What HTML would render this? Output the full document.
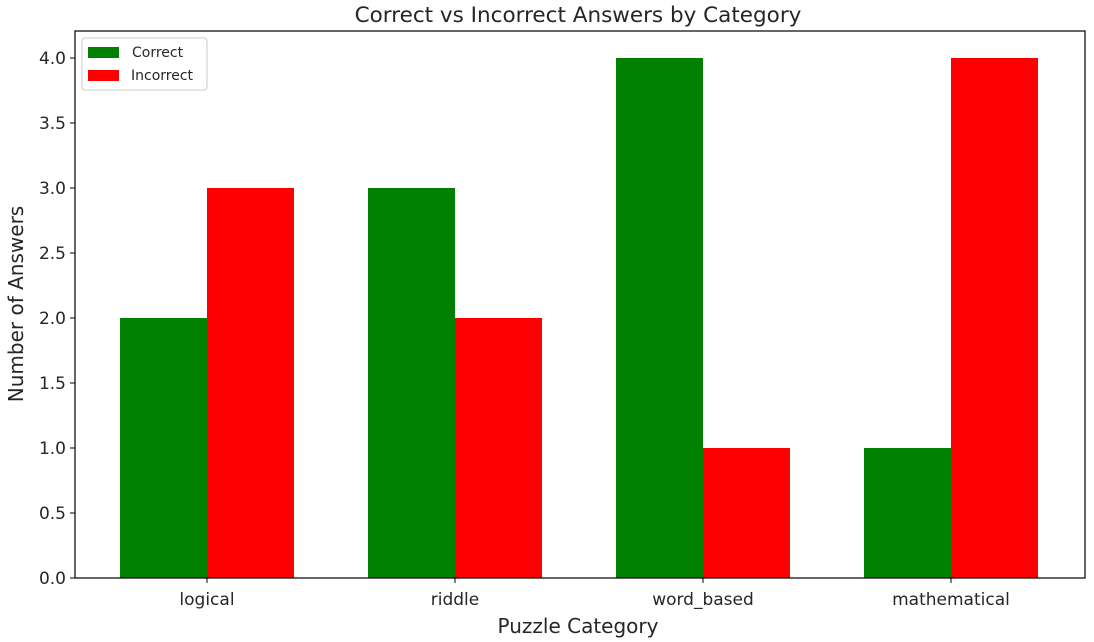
<!DOCTYPE html>
<html><head><meta charset="utf-8"><style>
html,body{margin:0;padding:0;background:#fff;width:1094px;height:642px;overflow:hidden}
svg text{font-family:"DejaVu Sans","Liberation Sans",sans-serif;fill:#262626}
</style></head><body>
<svg id="chart" width="1094" height="642" xmlns="http://www.w3.org/2000/svg">
<g id="bars"></g>
<g id="axes"></g>
<text x="578" y="22" text-anchor="middle" font-size="21.5">Correct vs Incorrect Answers by Category</text>
<text x="578" y="633" text-anchor="middle" font-size="20">Puzzle Category</text>
<text transform="translate(23,304) rotate(-90)" text-anchor="middle" font-size="20">Number of Answers</text>
<g>
<rect x="82" y="38" width="125" height="52" fill="#fff" stroke="#ccc" rx="3"/>
<rect x="88" y="47" width="31" height="11" fill="#008000"/>
<text x="132" y="57" font-size="14">Correct</text>
<rect x="88" y="70" width="31" height="11" fill="#ff0000"/>
<text x="131" y="80" font-size="14">Incorrect</text>
</g>
</svg>
<script>
const categories = ["logical","riddle","word_based","mathematical"];
const correct = [2,3,4,1];
const incorrect = [3,2,1,4];
const yTicks = [0,0.5,1,1.5,2,2.5,3,3.5,4];
const L=75,R=1085,T=31,B=578;
const xs = i => 207 + i*248;
const barW = 87;
const ys = v => B - v*130;
const NS="http://www.w3.org/2000/svg";
const bars=document.getElementById('bars'), axes=document.getElementById('axes');
function mk(tag,attrs,parent){const e=document.createElementNS(NS,tag);for(const k in attrs)e.setAttribute(k,attrs[k]);parent.appendChild(e);return e;}
categories.forEach((c,i)=>{
  const g=mk('rect',{x:xs(i)-barW,y:ys(correct[i]),width:barW,height:B-ys(correct[i]),fill:'#008000'},bars);
  
  
  const r=mk('rect',{x:xs(i),y:ys(incorrect[i]),width:barW,height:B-ys(incorrect[i]),fill:'#ff0000'},bars);
  
  
  const t=mk('line',{x1:xs(i),x2:xs(i),y1:B,y2:B+5,stroke:'#000'},axes);
  
  
  const l=mk('text',{x:xs(i),y:B+27,'text-anchor':'middle','font-size':17},axes);
  l.textContent=c;
  
  
});
yTicks.forEach(v=>{
  const t=mk('line',{x1:L-5,x2:L,y1:ys(v),y2:ys(v),stroke:'#000'},axes);
  
  
  const l=mk('text',{x:L-9,y:ys(v)+6,'text-anchor':'end','font-size':17},axes);
  l.textContent=v.toFixed(1);
  
  
});
const f=mk('rect',{x:L,y:T,width:R-L,height:B-T,fill:'none',stroke:'#000','stroke-width':1.2},axes);


</script>
</body></html>
